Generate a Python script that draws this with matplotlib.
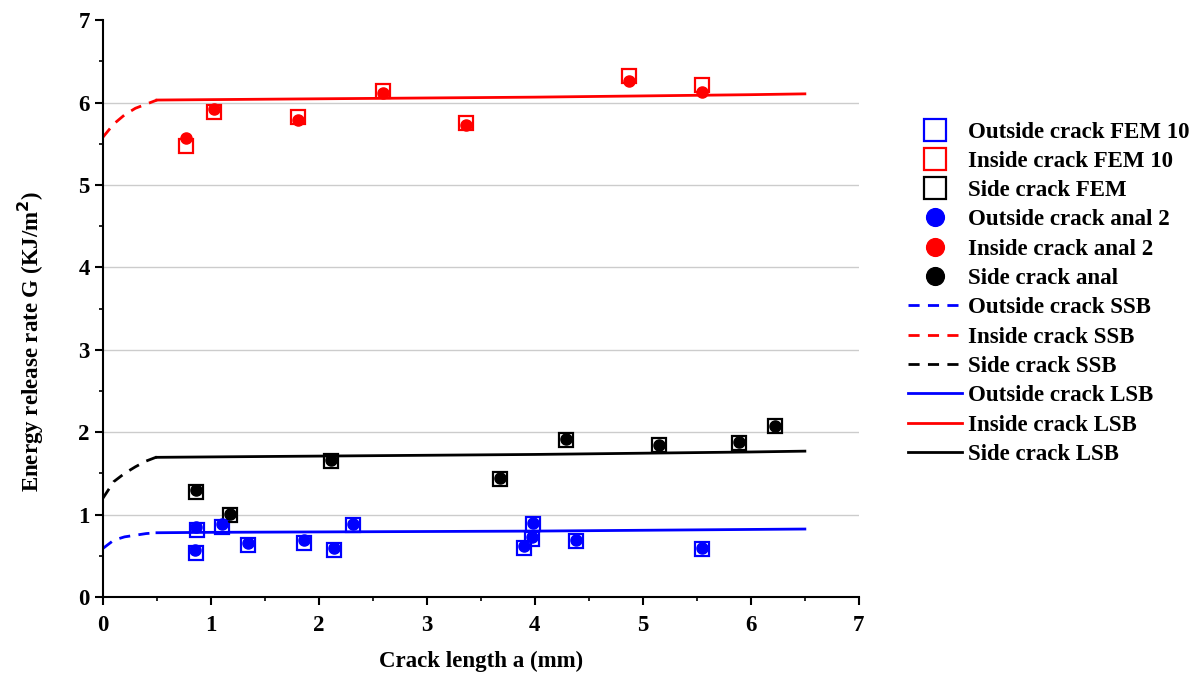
import matplotlib.pyplot as plt
from matplotlib.ticker import MultipleLocator

plt.rcParams["font.family"] = "Liberation Serif"
plt.rcParams["font.weight"] = "bold"
plt.rcParams["font.size"] = 16.5

# FEM results (squares)
out_fem_a = [0.86, 0.87, 1.10, 1.34, 1.86, 2.14, 2.32, 3.98, 3.97, 3.90, 4.38, 5.55]
out_fem_g = [0.54, 0.81, 0.85, 0.63, 0.66, 0.57, 0.87, 0.88, 0.70, 0.60, 0.68, 0.58]
in_fem_a = [0.77, 1.03, 1.81, 2.59, 3.36, 4.87, 5.55]
in_fem_g = [5.47, 5.88, 5.83, 6.14, 5.75, 6.32, 6.21]
side_fem_a = [0.86, 1.18, 2.11, 3.68, 4.29, 5.15, 5.89, 6.22]
side_fem_g = [1.28, 0.99, 1.65, 1.43, 1.91, 1.84, 1.87, 2.07]

# analytical results (circles)
out_an_a = [0.85, 0.86, 1.10, 1.34, 1.86, 2.14, 2.32, 3.98, 3.97, 3.90, 4.38, 5.55]
out_an_g = [0.57, 0.85, 0.89, 0.66, 0.69, 0.59, 0.89, 0.90, 0.73, 0.62, 0.69, 0.59]
in_an_a = [0.77, 1.03, 1.81, 2.59, 3.36, 4.87, 5.55]
in_an_g = [5.57, 5.92, 5.79, 6.11, 5.73, 6.26, 6.13]
side_an_a = [0.86, 1.18, 2.11, 3.68, 4.29, 5.15, 5.89, 6.22]
side_an_g = [1.30, 1.01, 1.66, 1.45, 1.92, 1.85, 1.88, 2.08]

# SSB curves (dashed)
ssb_a = [0.0, 0.1, 0.2, 0.3, 0.4, 0.5]
out_ssb = [0.59, 0.69, 0.73, 0.75, 0.77, 0.78]
in_ssb = [5.58, 5.74, 5.85, 5.93, 5.98, 6.03]
side_ssb = [1.20, 1.40, 1.50, 1.58, 1.65, 1.70]

# LSB curves (solid)
lsb_a = [0.5, 1, 2, 3, 4, 5, 6, 6.5]
out_lsb = [0.78, 0.785, 0.79, 0.795, 0.80, 0.81, 0.82, 0.825]
in_lsb = [6.03, 6.035, 6.045, 6.055, 6.065, 6.08, 6.095, 6.105]
side_lsb = [1.695, 1.70, 1.71, 1.72, 1.73, 1.745, 1.76, 1.77]

fig = plt.figure(figsize=(11.96, 6.74), dpi=100)
ax = fig.add_axes([0.0861, 0.1142, 0.632, 0.856])

for y in range(1, 7):
    ax.axhline(y, color="#cccccc", lw=1.0, zorder=0)

sq = dict(marker="s", ls="none", ms=10, mfc="none", mew=1.6)
ci = dict(marker="o", ls="none", ms=8)

ax.plot(out_fem_a, out_fem_g, color="b", label="Outside crack FEM 10", **sq)
ax.plot(in_fem_a, in_fem_g, color="r", label="Inside crack FEM 10", **sq)
ax.plot(side_fem_a, side_fem_g, color="k", label="Side crack FEM", **sq)
ax.plot(out_an_a, out_an_g, color="b", label="Outside crack anal 2", **ci)
ax.plot(in_an_a, in_an_g, color="r", label="Inside crack anal 2", **ci)
ax.plot(side_an_a, side_an_g, color="k", label="Side crack anal", **ci)
ax.plot(ssb_a, out_ssb, color="b", ls=(0, (4, 3)), lw=2, label="Outside crack SSB")
ax.plot(ssb_a, in_ssb, color="r", ls=(0, (4, 3)), lw=2, label="Inside crack SSB")
ax.plot(ssb_a, side_ssb, color="k", ls=(0, (4, 3)), lw=2, label="Side crack SSB")
ax.plot(lsb_a, out_lsb, color="b", lw=2, label="Outside crack LSB")
ax.plot(lsb_a, in_lsb, color="r", lw=2, label="Inside crack LSB")
ax.plot(lsb_a, side_lsb, color="k", lw=2, label="Side crack LSB")

ax.set_xlim(0, 7)
ax.set_ylim(0, 7)
ax.xaxis.set_major_locator(MultipleLocator(1))
ax.xaxis.set_minor_locator(MultipleLocator(0.5))
ax.yaxis.set_major_locator(MultipleLocator(1))
ax.yaxis.set_minor_locator(MultipleLocator(0.5))
ax.tick_params(which="major", direction="out", length=6, width=1.5, labelsize=16.5)
ax.tick_params(axis="x", which="major", pad=7)
ax.tick_params(which="minor", direction="out", length=3, width=1.2)
for s in ["top", "right"]:
    ax.spines[s].set_visible(False)
for s in ["left", "bottom"]:
    ax.spines[s].set_linewidth(1.5)
for lab in ax.get_xticklabels() + ax.get_yticklabels():
    lab.set_fontweight("bold")

ax.set_xlabel("Crack length a (mm)", fontsize=16.5, fontweight="bold")
ax.set_ylabel("Energy release rate G (KJ/m$^\\mathbf{2}$)", fontsize=16.5, fontweight="bold")
ax.xaxis.set_label_coords(0.5, -0.093)
ax.yaxis.set_label_coords(-0.076, 0.444)

ax.legend(loc="upper left", bbox_to_anchor=(1.053, 0.840), frameon=False, markerscale=1.6,
          handlelength=2.36, handletextpad=0.26, labelspacing=0.36, borderaxespad=0,
          prop={"weight": "bold", "size": 16.5})

fig.savefig("out.png", dpi=100)
